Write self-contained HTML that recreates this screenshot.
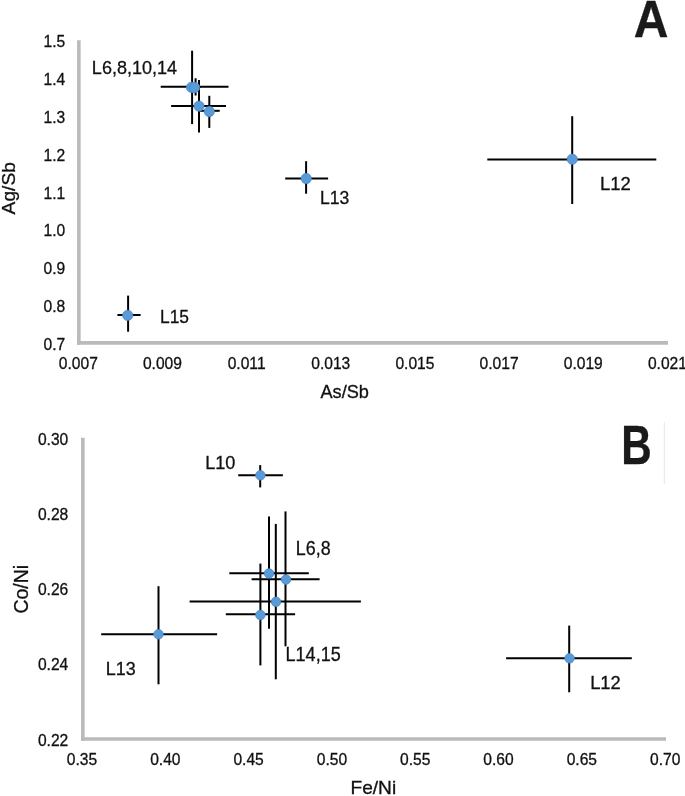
<!DOCTYPE html>
<html><head><meta charset="utf-8"><style>
html,body{margin:0;padding:0;background:#fff;}
body{width:685px;height:796px;overflow:hidden;}
svg{display:block;will-change:transform;}
text{font-family:"Liberation Sans",sans-serif;fill:#111;stroke:#111;stroke-width:0.3px;}
.t{font-size:15.6px;}
</style></head><body>
<svg width="685" height="796" viewBox="0 0 685 796">
<line x1="78.85" y1="40.3" x2="78.85" y2="344.65000000000003" stroke="#bababa" stroke-width="3.6"/>
<line x1="77.05" y1="342.85" x2="668" y2="342.85" stroke="#bababa" stroke-width="3.6"/>
<text x="65.2" y="47.35" text-anchor="end" class="t">1.5</text>
<text x="65.2" y="85.14" text-anchor="end" class="t">1.4</text>
<text x="65.2" y="122.94" text-anchor="end" class="t">1.3</text>
<text x="65.2" y="160.73" text-anchor="end" class="t">1.2</text>
<text x="65.2" y="198.53" text-anchor="end" class="t">1.1</text>
<text x="65.2" y="236.32" text-anchor="end" class="t">1.0</text>
<text x="65.2" y="274.11" text-anchor="end" class="t">0.9</text>
<text x="65.2" y="311.91" text-anchor="end" class="t">0.8</text>
<text x="65.2" y="349.70" text-anchor="end" class="t">0.7</text>
<text x="78.30" y="368.7" text-anchor="middle" class="t">0.007</text>
<text x="162.46" y="368.7" text-anchor="middle" class="t">0.009</text>
<text x="246.63" y="368.7" text-anchor="middle" class="t">0.011</text>
<text x="330.79" y="368.7" text-anchor="middle" class="t">0.013</text>
<text x="414.96" y="368.7" text-anchor="middle" class="t">0.015</text>
<text x="499.12" y="368.7" text-anchor="middle" class="t">0.017</text>
<text x="583.29" y="368.7" text-anchor="middle" class="t">0.019</text>
<text x="667.45" y="368.7" text-anchor="middle" class="t">0.021</text>
<text x="320.41" y="397.85" style="font-size:17.79px;" transform="translate(320.45,0) scale(1.0234,1) translate(-320.45,0)">As/Sb</text>
<text x="-0.05" y="0" style="font-size:18.76px" transform="translate(15.25,214.35) rotate(-90) scale(1.0224,1)">Ag/Sb</text>
<line x1="117.4" y1="315.0" x2="140.6" y2="315.0" stroke="#000" stroke-width="2.0"/>
<line x1="128.1" y1="295.6" x2="128.1" y2="331.7" stroke="#000" stroke-width="2.0"/>
<line x1="285.2" y1="178.5" x2="328.1" y2="178.5" stroke="#000" stroke-width="2.0"/>
<line x1="306.1" y1="161.2" x2="306.1" y2="193.7" stroke="#000" stroke-width="2.0"/>
<line x1="487.3" y1="159.6" x2="656.3" y2="159.6" stroke="#000" stroke-width="2.0"/>
<line x1="572.2" y1="116.2" x2="572.2" y2="204.0" stroke="#000" stroke-width="2.0"/>
<line x1="160.7" y1="86.8" x2="228.5" y2="86.8" stroke="#000" stroke-width="2.0"/>
<line x1="192.1" y1="50.7" x2="192.1" y2="124.1" stroke="#000" stroke-width="2.0"/>
<line x1="190.0" y1="87.0" x2="201.0" y2="87.0" stroke="#000" stroke-width="2.0"/>
<line x1="195.6" y1="78.3" x2="195.6" y2="95.5" stroke="#000" stroke-width="2.0"/>
<line x1="171.1" y1="106.0" x2="226.0" y2="106.0" stroke="#000" stroke-width="2.0"/>
<line x1="199.0" y1="80.1" x2="199.0" y2="132.6" stroke="#000" stroke-width="2.0"/>
<line x1="198.9" y1="110.8" x2="219.7" y2="110.8" stroke="#000" stroke-width="2.0"/>
<line x1="209.3" y1="95.8" x2="209.3" y2="127.9" stroke="#000" stroke-width="2.0"/>
<circle cx="127.7" cy="315.3" r="5.15" fill="#5b9bd5" stroke="#3f85d3" stroke-width="0.7"/>
<circle cx="306.2" cy="178.5" r="5.15" fill="#5b9bd5" stroke="#3f85d3" stroke-width="0.7"/>
<circle cx="572.3" cy="159.2" r="5.15" fill="#5b9bd5" stroke="#3f85d3" stroke-width="0.7"/>
<circle cx="191.5" cy="87.3" r="5.15" fill="#5b9bd5" stroke="#3f85d3" stroke-width="0.7"/>
<circle cx="194.6" cy="87.5" r="5.15" fill="#5b9bd5" stroke="#3f85d3" stroke-width="0.7"/>
<circle cx="199.0" cy="106.1" r="5.15" fill="#5b9bd5" stroke="#3f85d3" stroke-width="0.7"/>
<circle cx="209.3" cy="111.5" r="5.15" fill="#5b9bd5" stroke="#3f85d3" stroke-width="0.7"/>
<text x="91.81" y="73.55" style="font-size:18.64px;" transform="translate(93.35,0) scale(0.9684,1) translate(-93.35,0)">L6,8,10,14</text>
<text x="319.79" y="203.65" style="font-size:18.92px;" transform="translate(321.35,0) scale(0.9284,1) translate(-321.35,0)">L13</text>
<text x="599.90" y="190.45" style="font-size:18.78px;" transform="translate(601.45,0) scale(0.9851,1) translate(-601.45,0)">L12</text>
<text x="159.87" y="322.95" style="font-size:19.20px;" transform="translate(161.45,0) scale(0.9068,1) translate(-161.45,0)">L15</text>
<text x="633.73" y="37.15" style="font-size:52.65px;font-weight:bold;fill:#1a1a1a;" transform="translate(635.05,0) scale(0.9127,1) translate(-635.05,0)">A</text>
<line x1="82.85" y1="437.7" x2="82.85" y2="740.75" stroke="#bababa" stroke-width="3.6"/>
<line x1="81.05" y1="738.95" x2="666" y2="738.95" stroke="#bababa" stroke-width="3.6"/>
<text x="68.3" y="444.55" text-anchor="end" class="t">0.30</text>
<text x="68.3" y="519.86" text-anchor="end" class="t">0.28</text>
<text x="68.3" y="595.18" text-anchor="end" class="t">0.26</text>
<text x="68.3" y="670.49" text-anchor="end" class="t">0.24</text>
<text x="68.3" y="745.80" text-anchor="end" class="t">0.22</text>
<text x="82.00" y="764.8" text-anchor="middle" class="t">0.35</text>
<text x="165.31" y="764.8" text-anchor="middle" class="t">0.40</text>
<text x="248.61" y="764.8" text-anchor="middle" class="t">0.45</text>
<text x="331.92" y="764.8" text-anchor="middle" class="t">0.50</text>
<text x="415.23" y="764.8" text-anchor="middle" class="t">0.55</text>
<text x="498.54" y="764.8" text-anchor="middle" class="t">0.60</text>
<text x="581.84" y="764.8" text-anchor="middle" class="t">0.65</text>
<text x="665.15" y="764.8" text-anchor="middle" class="t">0.70</text>
<text x="350.58" y="794.05" style="font-size:17.79px;" transform="translate(352.05,0) scale(1.0764,1) translate(-352.05,0)">Fe/Ni</text>
<text x="-0.97" y="0" style="font-size:19.31px" transform="translate(28.45,612.55) rotate(-90) scale(1.0085,1)">Co/Ni</text>
<line x1="238.2" y1="475.3" x2="282.9" y2="475.3" stroke="#000" stroke-width="2.0"/>
<line x1="260.2" y1="465.1" x2="260.2" y2="487.4" stroke="#000" stroke-width="2.0"/>
<line x1="101.2" y1="634.2" x2="217.1" y2="634.2" stroke="#000" stroke-width="2.0"/>
<line x1="158.5" y1="586.2" x2="158.5" y2="684.3" stroke="#000" stroke-width="2.0"/>
<line x1="506.1" y1="658.3" x2="631.8" y2="658.3" stroke="#000" stroke-width="2.0"/>
<line x1="569.2" y1="625.6" x2="569.2" y2="692.3" stroke="#000" stroke-width="2.0"/>
<line x1="229.3" y1="573.3" x2="308.8" y2="573.3" stroke="#000" stroke-width="2.0"/>
<line x1="269.0" y1="516.6" x2="269.0" y2="628.8" stroke="#000" stroke-width="2.0"/>
<line x1="251.6" y1="579.3" x2="319.6" y2="579.3" stroke="#000" stroke-width="2.0"/>
<line x1="285.5" y1="511.4" x2="285.5" y2="646.3" stroke="#000" stroke-width="2.0"/>
<line x1="189.6" y1="601.6" x2="360.9" y2="601.6" stroke="#000" stroke-width="2.0"/>
<line x1="275.8" y1="523.9" x2="275.8" y2="679.3" stroke="#000" stroke-width="2.0"/>
<line x1="225.8" y1="614.3" x2="295.1" y2="614.3" stroke="#000" stroke-width="2.0"/>
<line x1="260.4" y1="563.6" x2="260.4" y2="665.4" stroke="#000" stroke-width="2.0"/>
<circle cx="260.4" cy="475.3" r="4.8" fill="#5b9bd5" stroke="#3f85d3" stroke-width="0.7"/>
<circle cx="158.5" cy="634.3" r="4.8" fill="#5b9bd5" stroke="#3f85d3" stroke-width="0.7"/>
<circle cx="569.5" cy="658.3" r="4.8" fill="#5b9bd5" stroke="#3f85d3" stroke-width="0.7"/>
<circle cx="269.0" cy="573.5" r="4.8" fill="#5b9bd5" stroke="#3f85d3" stroke-width="0.7"/>
<circle cx="286.0" cy="579.6" r="4.8" fill="#5b9bd5" stroke="#3f85d3" stroke-width="0.7"/>
<circle cx="276.0" cy="601.8" r="4.8" fill="#5b9bd5" stroke="#3f85d3" stroke-width="0.7"/>
<circle cx="260.4" cy="615.0" r="4.8" fill="#5b9bd5" stroke="#3f85d3" stroke-width="0.7"/>
<text x="205.09" y="468.65" style="font-size:18.92px;" transform="translate(206.65,0) scale(0.9561,1) translate(-206.65,0)">L10</text>
<text x="295.75" y="554.95" style="font-size:19.35px;" transform="translate(297.35,0) scale(0.9226,1) translate(-297.35,0)">L6,8</text>
<text x="285.45" y="661.25" style="font-size:19.35px;" transform="translate(287.05,0) scale(0.9334,1) translate(-287.05,0)">L14,15</text>
<text x="105.69" y="674.95" style="font-size:18.92px;" transform="translate(107.25,0) scale(0.9489,1) translate(-107.25,0)">L13</text>
<text x="590.09" y="689.05" style="font-size:18.92px;" transform="translate(591.65,0) scale(0.9708,1) translate(-591.65,0)">L12</text>
<text x="620.44" y="463.65" style="font-size:54.98px;font-weight:bold;fill:#1a1a1a;" transform="translate(624.15,0) scale(0.7663,1) translate(-624.15,0)">B</text>
<line x1="664.3" y1="422" x2="664.3" y2="484" stroke="#e6e6e6" stroke-width="1"/>
</svg>
</body></html>
